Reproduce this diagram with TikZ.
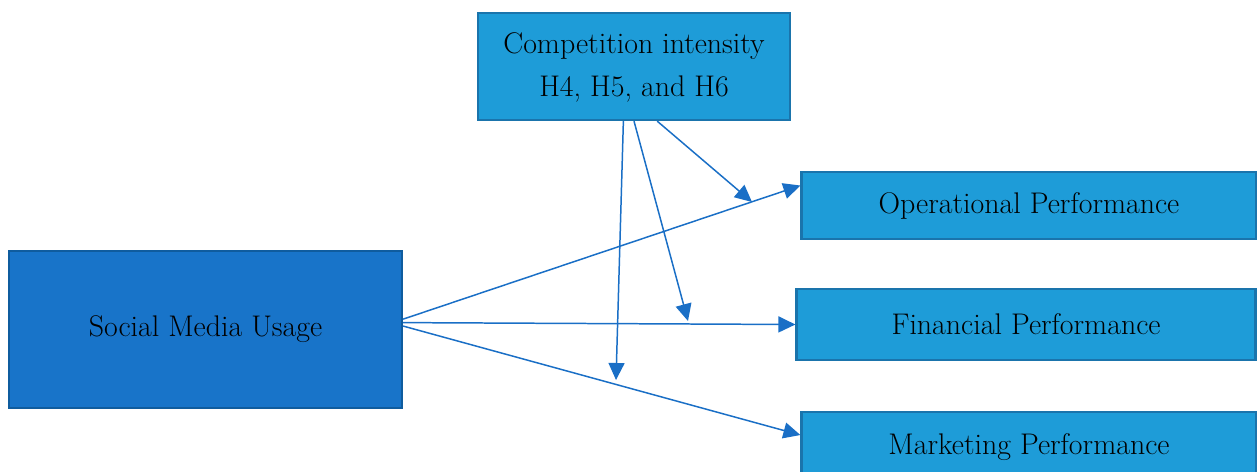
\documentclass[tikz,border=0pt]{standalone}
\usetikzlibrary{arrows.meta}
\definecolor{boxlight}{HTML}{1E9CD8}
\definecolor{boxlightedge}{HTML}{1A74AC}
\definecolor{boxdark}{HTML}{1874C9}
\definecolor{boxdarkedge}{HTML}{0F5C9E}
\definecolor{linkblue}{HTML}{1A6FC6}
\tikzset{
  lightbox/.style={draw=boxlightedge, fill=boxlight, line width=1.3pt, rectangle, inner sep=0pt, align=center, font=\fontsize{17}{24}\selectfont},
  darkbox/.style={draw=boxdarkedge, fill=boxdark, line width=1.3pt, rectangle, inner sep=0pt, align=center, font=\fontsize{17}{24}\selectfont},
  link/.style={draw=linkblue, line width=0.85pt, -{Triangle[length=0.34cm, width=0.32cm]}}
}
\begin{document}
\begin{tikzpicture}[x=0.02cm, y=-0.02cm]
  \useasboundingbox (0,0) rectangle (1257,471);
  \node[lightbox, minimum width=6.24cm, minimum height=2.14cm, text depth=0.5ex] (comp) at (634, 66.5) {Competition intensity\\H4, H5, and H6};
  \node[lightbox, minimum width=9.1cm, minimum height=1.34cm] (oper) at (1029, 205.5) {Operational Performance};
  \node[lightbox, minimum width=9.18cm, minimum height=1.42cm] (fin) at (1026, 324.5) {Financial Performance};
  \node[lightbox, minimum width=9.1cm, minimum height=1.4cm] (mkt) at (1029, 447) {Marketing Performance};
  \node[darkbox, minimum width=7.86cm, minimum height=3.14cm] (soc) at (205.5, 329.5) {Social Media Usage};
  % free ends of the moderating arrows
  \coordinate (onOper) at (752, 202);
  \coordinate (onFin) at (688, 321);
  \coordinate (onMkt) at (616, 380);
  \draw[link] (soc.3) -- (oper.175);
  \draw[link] (soc.2) -- (fin.180);
  \draw[link] (soc.1) -- (mkt.177);
  \draw[link] (comp.259.4) -- (onMkt);
  \draw[link] (comp.south) -- (onFin);
  \draw[link] (comp.293.3) -- (onOper);
\end{tikzpicture}
\end{document}
